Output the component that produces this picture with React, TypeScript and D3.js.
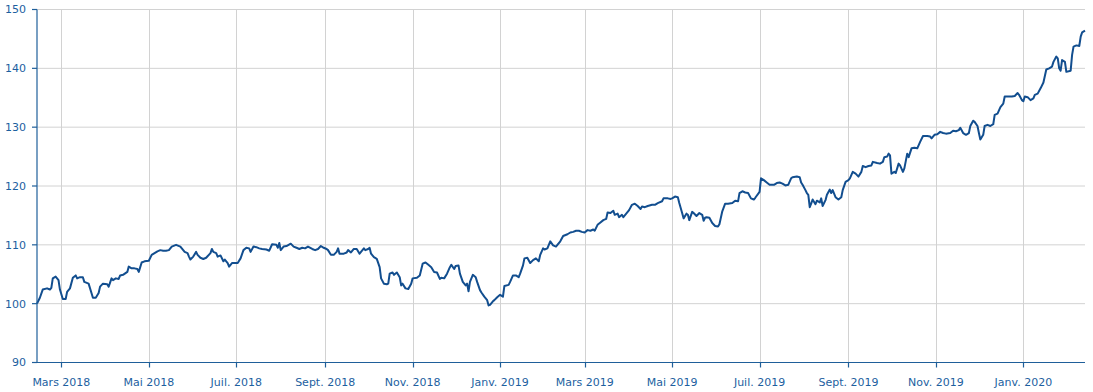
import React from "react";
import * as d3 from "d3";

const startDate = new Date(2018, 1, 12);
const endDate = new Date(2020, 1, 13);

// days after startDate
const dayOffsets = [
  0, 2, 4, 7, 9, 10, 11, 13, 15, 16, 18, 20, 21, 23, 25, 27, 28, 30, 32, 33, 36, 38, 39, 41, 43, 44, 46, 49, 50, 52,
  53, 55, 57, 58, 60, 63, 64, 66, 68, 70, 71, 73, 75, 78, 80, 82, 84, 86, 88, 90, 92, 94, 97, 100, 102, 103, 105, 106,
  107, 109, 111, 112, 114, 116, 118, 121, 122, 123, 125, 126, 128, 130, 131, 133, 134, 136, 138, 140, 142, 144, 146,
  148, 149, 151, 153, 155,
  157, 160, 162, 164, 167, 168, 169, 170, 172, 174, 177, 179, 181, 183, 185, 187, 189, 192, 194, 196, 198, 200, 202,
  203, 205, 207, 209, 210, 211, 214, 216, 217, 219, 221, 223, 225, 226, 228, 229, 231, 232, 233, 235, 237, 239, 240,
  242, 244, 245, 246, 248, 249, 251, 253, 254, 255, 257, 259, 261, 262, 265, 267, 269, 271, 273, 275, 277, 279, 281,
  282, 284, 286, 288, 289, 291, 292, 294, 295, 297, 299, 300, 301, 302, 304, 306, 307, 309, 310, 312, 314, 315,
  316, 318, 319, 321, 323, 325, 326, 329, 330, 332, 334, 336, 337, 339, 340, 342, 344, 346, 348, 350, 351, 353, 354,
  356, 358, 360, 362, 365, 367, 370, 372, 374, 376, 378, 380, 382, 384, 386, 388, 389, 391, 393, 395, 397, 398, 400,
  402, 403, 405, 406, 408, 409, 411, 413, 415, 417, 419, 421, 422, 424, 426, 429, 431, 433, 436, 437, 440, 442, 443,
  445, 447, 448, 450, 451, 453, 454, 455, 457, 458, 460, 462, 464, 465, 466, 467, 469, 471, 473, 475, 476, 478, 480,
  482, 485, 487, 489, 490, 492, 494, 496, 498, 500, 501, 504,
  505, 507, 509, 511, 514, 516, 518, 520, 522, 524, 526, 527, 530, 532, 533, 534, 536, 537, 538, 539, 540, 541, 543,
  544, 546, 547, 548, 550, 551, 553, 554, 555, 557, 559, 561, 562, 564, 566, 567, 569, 571, 573, 575, 576, 578, 580,
  582, 583, 586, 588, 590, 591, 593, 594, 595, 596, 598, 599, 601, 602, 604, 605, 607, 608, 610, 612, 614, 616, 618,
  621, 623, 624, 626, 628,
  630, 632, 634, 637, 639, 641, 643, 644, 646, 648, 650, 651, 653, 654, 656, 657, 658, 660, 661, 663, 665, 667, 668,
  670, 672, 674, 675, 677, 680, 682, 684, 685, 687, 688, 689, 691, 693, 695, 696, 698, 700, 702, 704, 706, 708, 709,
  711, 712, 713, 714, 715, 717, 718, 721, 722, 723, 725, 727, 728, 729, 731,
];

const values = [
  100.0, 101.0, 102.4, 102.6, 102.4, 102.7, 104.3, 104.6, 104.0, 102.4, 100.8, 100.8, 102.0, 102.6, 104.4, 104.8,
  104.3, 104.5, 104.5, 103.7, 103.4, 101.8, 101.0, 101.0, 101.8, 102.9, 103.4, 103.3, 102.9, 104.3,
  104.0, 104.3, 104.2, 104.8, 104.9, 105.4, 106.3, 106.0, 106.0, 105.9, 105.4, 107.0, 107.2, 107.3, 108.3, 108.6,
  108.9, 109.1, 109.0, 109.0, 109.1, 109.7, 110.0, 109.7, 109.1, 108.8, 108.6, 108.0,
  107.5, 108.0, 108.8, 108.3, 107.8, 107.6, 107.8, 108.6, 109.3, 108.8, 108.6, 108.0, 108.2, 107.2, 107.5, 106.9,
  106.3, 106.9, 106.9, 106.9, 107.7, 109.1, 109.5,
  109.4, 108.8, 109.7, 109.6, 109.4,
  109.3, 109.2, 109.0, 110.1, 110.0, 109.5, 110.3, 109.1, 109.7, 109.8, 110.2, 109.7, 109.5, 109.3, 109.5, 109.4,
  109.7, 109.3, 109.1, 109.3, 109.8, 109.5, 109.3,
  109.1, 108.3, 108.3, 108.8, 109.4, 108.5, 108.5, 108.7, 109.1, 108.7, 109.3, 109.3, 108.5, 108.8, 109.4, 109.1,
  109.3, 109.5, 108.5, 107.9, 107.6, 106.2, 104.3,
  103.4, 103.3, 103.4, 105.1, 105.3, 104.9, 105.3, 104.5, 103.1, 103.4, 102.6, 102.5, 103.4, 104.3, 104.4, 104.8,
  106.8, 107.0, 106.6, 106.2, 105.4, 105.3, 104.2,
  104.4, 104.3, 105.1, 106.2, 106.6, 105.9, 106.4, 106.5, 105.1, 103.7, 103.1, 103.4, 102.1, 103.7, 104.9, 104.5,
  103.7, 102.3, 101.9, 101.2, 100.6, 99.7,
  99.8, 100.4, 100.6, 101.1, 101.5, 101.2, 103.0, 103.2, 103.7, 104.8, 104.8, 104.5, 105.1, 106.5, 107.7, 107.8,
  106.9, 107.4, 107.7, 107.2, 108.3, 109.4, 109.2,
  109.4, 110.6, 109.9, 109.7, 110.6, 111.5, 111.8, 112.1, 112.2, 112.4, 112.4, 112.2, 112.1, 112.5, 112.4, 112.6,
  112.4, 113.4, 113.8, 114.2, 114.4, 115.5, 115.4,
  115.8, 115.1, 115.3, 114.7, 115.1, 114.7, 115.3, 115.9, 116.8, 117.0, 116.6, 116.1, 116.5, 116.4, 116.6, 116.8,
  116.8, 117.1, 117.4, 117.9, 117.9, 117.8, 117.9,
  118.2, 118.1, 117.1, 115.4, 114.5, 115.3, 115.1, 114.2, 115.6, 115.4, 114.9, 115.4, 115.1, 114.1, 114.6, 114.7,
  114.6, 113.7, 113.2, 113.1, 113.5, 115.7, 117.0,
  117.0, 117.1, 117.5, 117.4, 118.8, 119.1, 118.9, 118.8, 117.9, 117.7, 118.0, 119.0,
  121.3, 121.0, 120.6, 120.2, 120.2, 120.5, 120.6, 120.4, 120.1, 120.2, 121.3, 121.5, 121.6, 121.5, 120.6, 120.2,
  119.3, 118.8, 118.5, 116.4, 117.0, 117.7, 116.9,
  117.5, 117.2, 117.9, 116.6, 117.6, 118.5, 119.4, 118.8, 119.3, 118.1, 117.7, 118.1, 119.3, 120.7, 121.0, 121.3,
  122.4, 122.1, 121.6, 122.4, 123.4, 123.2, 123.4,
  123.5, 124.1, 123.9, 123.8, 124.1, 124.9, 125.0, 125.5, 125.2, 122.1, 122.4, 122.2, 123.8, 123.5, 122.4, 123.0,
  125.5, 124.9, 126.4, 126.5, 126.4, 127.5, 128.5,
  128.5, 128.4, 128.1, 128.7, 128.8,
  129.2, 129.0, 128.9, 129.0, 129.4, 129.3, 129.5, 129.9, 129.0, 128.7, 129.0, 130.2, 131.1, 130.9, 130.2, 129.0,
  127.9, 128.7, 130.2, 130.4, 130.2, 130.5, 132.1,
  132.3, 133.4, 134.0, 135.2, 135.2, 135.2, 135.3, 135.8, 135.5, 134.6, 134.4, 135.2, 135.1, 134.6, 134.9, 135.5,
  135.7, 136.6, 137.6, 139.8, 140.0, 140.3, 141.1,
  142.0, 141.7, 140.0, 139.6, 141.4, 141.1, 139.4, 139.6, 142.3, 143.7, 143.9, 143.8, 145.4, 146.1, 146.4,
];

const yTicks = [90, 100, 110, 120, 130, 140, 150];
const monthLabels = ["Janv.", "Févr.", "Mars", "Avr.", "Mai", "Juin", "Juil.", "Août", "Sept.", "Oct.", "Nov.", "Déc."];

const W = 1093;
const H = 392;
const M = { left: 37, right: 1085, top: 9.5, bottom: 362.5 };

export default function App() {
  const x = d3.scaleTime().domain([startDate, endDate]).range([M.left, M.right]);
  const y = d3.scaleLinear().domain([90, 150]).range([M.bottom, M.top]);

  const data = dayOffsets.map((d, i) => ({ date: d3.timeDay.offset(startDate, d), value: values[i] }));
  const line = d3
    .line<{ date: Date; value: number }>()
    .x((d) => x(d.date))
    .y((d) => y(d.value))
    .curve(d3.curveLinear);

  const xTicks = d3.timeMonth.every(2)!.range(startDate, endDate);
  const font = "'DejaVu Sans', Verdana, sans-serif";
  const textColor = "#1d5f9f";
  const axisColor = "#1f5f9a";

  return (
    <svg
      width={W}
      height={H}
      style={{ position: "absolute", left: 0, top: 0, background: "#fff" }}
      fontFamily={font}
    >
      {/* grid */}
      {yTicks.map((t) => (
        <line key={"gy" + t} x1={M.left} x2={M.right} y1={y(t)} y2={y(t)} stroke="#d2d2d2" strokeWidth={1} />
      ))}
      {xTicks.map((t) => (
        <line
          key={"gx" + t.getTime()}
          x1={Math.round(x(t)) + 0.5}
          x2={Math.round(x(t)) + 0.5}
          y1={M.top}
          y2={M.bottom}
          stroke="#d2d2d2"
          strokeWidth={1}
        />
      ))}
      {/* series */}
      <path d={line(data) || ""} fill="none" stroke="#124e8f" strokeWidth={2} strokeLinejoin="round" />
      {/* axes */}
      <line x1={M.left} x2={M.left} y1={M.top} y2={M.bottom} stroke={axisColor} strokeWidth={1.2} />
      <line x1={M.left} x2={M.right} y1={M.bottom} y2={M.bottom} stroke={axisColor} strokeWidth={1.2} />
      {yTicks.map((t) => (
        <g key={"yt" + t}>
          <line x1={M.left - 5} x2={M.left} y1={y(t)} y2={y(t)} stroke={axisColor} strokeWidth={1.2} />
          <text x={M.left - 11} y={y(t)} dy="0.35em" textAnchor="end" fontSize={11} fill={textColor}>
            {t}
          </text>
        </g>
      ))}
      {xTicks.map((t) => (
        <g key={"xt" + t.getTime()}>
          <line
            x1={Math.round(x(t)) + 0.5}
            x2={Math.round(x(t)) + 0.5}
            y1={M.bottom}
            y2={M.bottom + 5}
            stroke={axisColor}
            strokeWidth={1.2}
          />
          <text x={x(t)} y={386} textAnchor="middle" fontSize={11} fill={textColor}>
            {monthLabels[t.getMonth()] + " " + t.getFullYear()}
          </text>
        </g>
      ))}
    </svg>
  );
}
